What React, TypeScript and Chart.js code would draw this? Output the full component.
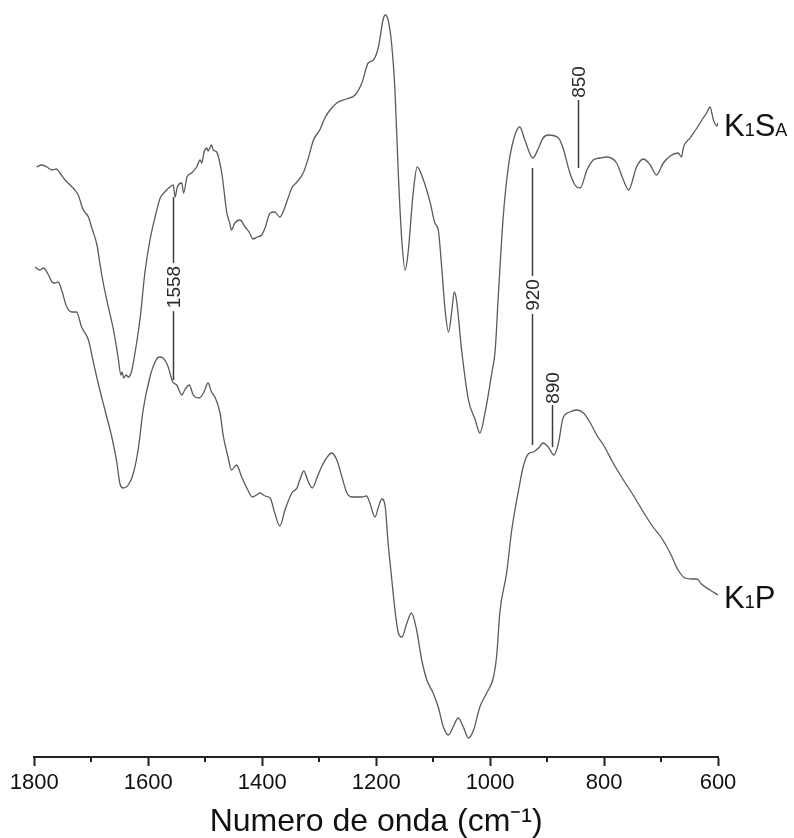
import React, { useEffect, useRef } from "react";
import { Chart, registerables } from "chart.js";

Chart.register(...registerables);

// [wavenumber (cm-1), transmittance (a.u.)]
const k1saSpectrum: [number, number][] = [
  [1796, 590], [1787, 592], [1778, 590], [1769, 587], [1761, 588], [1755, 584], [1746, 577], [1737, 572],
  [1729, 567], [1723, 562], [1714, 547], [1705, 540], [1699, 529], [1690, 512], [1685, 494], [1679, 474],
  [1670, 450], [1661, 427], [1653, 400], [1648, 382], [1646, 385], [1643, 379], [1639, 382], [1635, 380],
  [1630, 384], [1623, 405], [1614, 440], [1606, 484], [1597, 517], [1588, 540], [1579, 559], [1571, 565],
  [1562, 570], [1556, 572], [1553, 560], [1549, 570], [1541, 574], [1538, 564], [1532, 580], [1524, 584],
  [1515, 590], [1509, 597], [1506, 594], [1502, 605], [1497, 609], [1495, 606], [1489, 612], [1486, 607],
  [1480, 605], [1471, 584], [1462, 544], [1457, 534], [1454, 527], [1448, 534], [1439, 537], [1430, 530],
  [1423, 525], [1416, 518], [1409, 520], [1401, 522], [1395, 529], [1386, 544], [1378, 545], [1369, 540],
  [1362, 547], [1354, 560], [1348, 569], [1339, 575], [1328, 584], [1320, 597], [1310, 617], [1299, 627],
  [1290, 639], [1281, 647], [1269, 654], [1252, 658], [1237, 662], [1225, 674], [1214, 694], [1205, 697],
  [1196, 710], [1188, 737], [1184, 742], [1179, 737], [1173, 714], [1167, 667], [1161, 582], [1155, 517],
  [1149, 487], [1144, 504], [1135, 564], [1128, 590], [1117, 577], [1105, 554], [1097, 534], [1091, 527],
  [1085, 490], [1079, 447], [1073, 425], [1067, 447], [1063, 465], [1059, 457], [1050, 407], [1038, 357],
  [1026, 337], [1018, 324], [1009, 344], [997, 384], [991, 407], [986, 457], [977, 540], [968, 590],
  [959, 617], [948, 630], [939, 617], [925, 599], [915, 609], [907, 619], [898, 622], [880, 619],
  [872, 609], [860, 584], [851, 572], [842, 569], [830, 587], [819, 597], [807, 599], [795, 600],
  [778, 594], [766, 577], [757, 567], [743, 590], [731, 598], [719, 592], [708, 582], [696, 594],
  [684, 601], [670, 604], [664, 600], [661, 609], [649, 619], [637, 629], [626, 639], [620, 644],
  [614, 650], [608, 637], [602, 631], [600, 634],
];

const k1pSpectrum: [number, number][] = [
  [1799, 490], [1790, 487], [1784, 489], [1775, 482], [1769, 475], [1764, 474], [1758, 475], [1752, 467],
  [1743, 450], [1734, 445], [1726, 445], [1717, 430], [1705, 417], [1696, 394], [1688, 374], [1676, 347],
  [1664, 320], [1655, 294], [1650, 274], [1644, 269], [1635, 272], [1626, 284], [1617, 310], [1609, 347],
  [1597, 380], [1588, 395], [1581, 400], [1574, 399], [1565, 390], [1557, 375], [1550, 372], [1541, 362],
  [1536, 367], [1528, 372], [1521, 362], [1511, 359], [1503, 364], [1495, 374], [1489, 365], [1483, 360],
  [1474, 344], [1468, 320], [1460, 300], [1454, 287], [1445, 292], [1436, 280], [1427, 269], [1417, 260],
  [1410, 262], [1404, 264], [1395, 261], [1386, 259], [1378, 244], [1369, 231], [1360, 247], [1348, 264],
  [1339, 269], [1334, 277], [1327, 286], [1319, 275], [1312, 269], [1304, 279], [1296, 290], [1287, 299],
  [1278, 304], [1269, 297], [1260, 280], [1252, 265], [1243, 260], [1234, 260], [1225, 260], [1217, 261],
  [1211, 254], [1202, 240], [1196, 250], [1190, 258], [1184, 250], [1179, 214], [1173, 180], [1167, 147],
  [1161, 124], [1155, 120], [1146, 134], [1138, 144], [1129, 127], [1120, 97], [1111, 77], [1100, 64],
  [1091, 50], [1082, 30], [1073, 22], [1065, 30], [1056, 39], [1047, 30], [1038, 19], [1029, 27],
  [1018, 50], [1006, 64], [994, 80], [988, 104], [983, 144], [971, 184], [962, 227], [950, 267],
  [942, 290], [933, 303], [924, 305], [915, 309], [907, 314], [898, 310], [888, 302], [880, 314],
  [872, 339], [860, 345], [848, 347], [836, 344], [825, 335], [813, 322], [801, 312], [784, 294],
  [766, 277], [749, 262], [731, 245], [714, 230], [699, 219], [684, 204], [670, 187], [658, 179],
  [646, 178], [637, 178], [629, 173], [614, 167], [600, 162],
];

// series end labels: [text, isSubscript]
const seriesLabels: [string, boolean][][] = [
  [["K", false], ["1", true], ["S", false], ["A", true]],
  [["K", false], ["1", true], ["P", false]],
];

const xMinorTicks = [1700, 1500, 1300, 1100, 900, 700];

// peak markers
const peakPositions = [1557, 927, 892, 846];
const peakLabels = ["1558", "920", "890", "850"];
const peakLineTop = [560, 589, 352, 657];
const peakLineBottom = [377, 312, 310, 589];
const peakLabelAt = [470, 462, 369, 675];

const xTitle = "Numero de onda (cm\u207B\u00B9)";

const FONT = "'Liberation Sans', Arial, Helvetica, sans-serif";

const decorations = {
  id: "decorations",
  afterDraw(chart: any) {
    const { ctx, chartArea, scales } = chart;
    const x = scales.x;
    const y = scales.y;
    ctx.save();
    // minor ticks
    ctx.strokeStyle = "#222";
    ctx.lineWidth = 2;
    for (const v of xMinorTicks) {
      const px = Math.round(x.getPixelForValue(v));
      ctx.beginPath();
      ctx.moveTo(px, chartArea.bottom);
      ctx.lineTo(px, chartArea.bottom + 5);
      ctx.stroke();
    }
    // peak markers
    ctx.font = `19px ${FONT}`;
    ctx.textAlign = "center";
    ctx.textBaseline = "middle";
    peakPositions.forEach((w, i) => {
      const px = Math.round(x.getPixelForValue(w)) + 0.5;
      const top = y.getPixelForValue(peakLineTop[i]);
      const bottom = y.getPixelForValue(peakLineBottom[i]);
      const ly = y.getPixelForValue(peakLabelAt[i]);
      const half = ctx.measureText(peakLabels[i]).width / 2 + 3;
      const segs: [number, number][] =
        ly > top && ly < bottom ? [[top, ly - half], [ly + half, bottom]] : [[top, bottom]];
      ctx.strokeStyle = "#3c3c3c";
      ctx.lineWidth = 1.5;
      for (const [a, b] of segs) {
        ctx.beginPath();
        ctx.moveTo(px, a);
        ctx.lineTo(px, b);
        ctx.stroke();
      }
      ctx.save();
      ctx.fillStyle = "#2a2a2a";
      ctx.translate(px + 1, ly);
      ctx.rotate(-Math.PI / 2);
      ctx.fillText(peakLabels[i], 0, 0);
      ctx.restore();
    });
    // series labels at the end of each curve
    ctx.textAlign = "left";
    ctx.textBaseline = "alphabetic";
    ctx.fillStyle = "#111";
    chart.data.datasets.forEach((_: any, i: number) => {
      const meta = chart.getDatasetMeta(i);
      const last = meta.data[meta.data.length - 1];
      let cx = last.x + 6;
      const base = last.y + 13;
      for (const [t, sub] of seriesLabels[i]) {
        ctx.font = sub ? `18px ${FONT}` : `31px ${FONT}`;
        ctx.fillText(t, cx, base);
        cx += ctx.measureText(t).width;
      }
    });
    ctx.restore();
  },
};

export default function App() {
  const canvasRef = useRef<HTMLCanvasElement | null>(null);

  useEffect(() => {
    const canvas = canvasRef.current;
    if (!canvas) return;
    const chart = new Chart(canvas, {
      type: "line",
      data: {
        datasets: [
          {
            label: "K1SA",
            data: k1saSpectrum.map(([w, t]) => ({ x: w, y: t })),
            borderColor: "#5a5a5a",
            borderWidth: 1.3,
            pointRadius: 0,
            cubicInterpolationMode: "monotone",
          },
          {
            label: "K1P",
            data: k1pSpectrum.map(([w, t]) => ({ x: w, y: t })),
            borderColor: "#5a5a5a",
            borderWidth: 1.3,
            pointRadius: 0,
            cubicInterpolationMode: "monotone",
          },
        ],
      },
      options: {
        responsive: false,
        animation: false,
        events: [],
        layout: { padding: { left: 34.3, right: 76, top: 0, bottom: 0 } },
        plugins: { legend: { display: false }, tooltip: { enabled: false } },
        scales: {
          x: {
            type: "linear",
            reverse: true,
            min: 600,
            max: 1800,
            afterFit: (scale: any) => {
              scale.height = 81;
            },
            border: { display: true, color: "#222", width: 2 },
            grid: {
              drawOnChartArea: false,
              drawTicks: true,
              tickLength: 9,
              tickWidth: 2,
              tickColor: "#222",
            },
            ticks: {
              stepSize: 200,
              padding: 6,
              color: "#111",
              maxRotation: 0,
              autoSkip: false,
              font: { family: FONT, size: 22, lineHeight: 1 },
              callback: (v: any) => String(v),
            },
            title: {
              display: true,
              text: xTitle,
              color: "#111",
              padding: { top: 0, bottom: 0 },
              font: { family: FONT, size: 32, lineHeight: 1 },
            },
          },
          y: {
            type: "linear",
            display: false,
            min: 0,
            max: 757,
          },
        },
      },
      plugins: [decorations],
    } as any);
    return () => chart.destroy();
  }, []);

  return (
    <div style={{ position: "absolute", left: 0, top: 0, width: 794, height: 838, background: "#fff" }}>
      <canvas ref={canvasRef} width={794} height={838} style={{ display: "block" }} />
    </div>
  );
}
